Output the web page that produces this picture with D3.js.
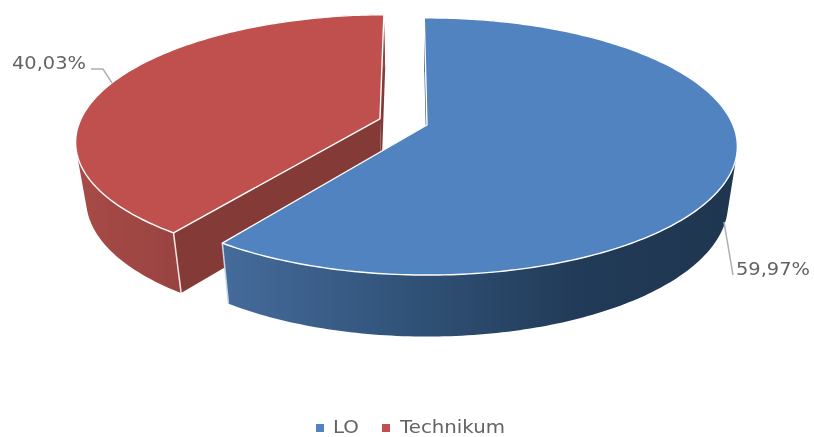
<!DOCTYPE html>
<meta charset="utf-8">
<script src="https://d3js.org/d3.v7.min.js"></script>
<style>
body { margin: 0; background: white; }
svg { filter: blur(0.4px); }
text { font-family: "DejaVu Sans", sans-serif; fill: #636363; }
</style>
<div id="my_dataviz"></div>
<script>
// values
var categories = ["LO", "Technikum"];
var shares = [59.97, 40.03];
var shareLabels = ["59,97%", "40,03%"];

var topColors = ["#5083bf", "#c0504d"];

var width = 814, height = 437;

var svg = d3.select("#my_dataviz")
  .append("svg")
    .attr("width", width)
    .attr("height", height)
    .style("display", "block");

// the disc is tilted with a bit of perspective: the apex sits above the middle of the ellipse
var apexX = 427, apexY = 125;
var radiusX = 306, radiusY = 125, tilt = 0.167;
var depthScaleX = 0.97, depthScaleY = 1.03, depthShift = 57;

function project(u, v, lower) {
  var w = 1 - tilt * v;
  var px = radiusX * u / w, py = radiusY * v / w;
  if (lower) { px = px * depthScaleX; py = py * depthScaleY + depthShift; }
  return [apexX + px, apexY + py];
}

var pie = d3.pie().sort(null)
  .startAngle(-0.6 * Math.PI / 180)
  .endAngle(359.4 * Math.PI / 180);
var slices = pie(shares);

// red slice is pulled out of the pie, in the plane of the disc, and looks a touch smaller
var explode = [[0, 0], [-0.155, -0.05]];
var sliceScale = [1, 0.985];

var line = d3.line();

function arcPoints(d, i, lower) {
  var n = Math.ceil((d.endAngle - d.startAngle) * 60), pts = [];
  for (var k = 0; k <= n; k++) {
    var a = d.startAngle + (d.endAngle - d.startAngle) * k / n;
    pts.push(project(sliceScale[i] * Math.sin(a) + explode[i][0],
                     -sliceScale[i] * Math.cos(a) + explode[i][1], lower));
  }
  return pts;
}
function apex(i, lower) { return project(explode[i][0], explode[i][1], lower); }

// gradients for the outer walls
var defs = svg.append("defs");
function gradient(id, x1, x2, stops) {
  var g = defs.append("linearGradient").attr("id", id)
    .attr("gradientUnits", "userSpaceOnUse")
    .attr("x1", x1).attr("x2", x2).attr("y1", 0).attr("y2", 0);
  stops.forEach(function(s) {
    g.append("stop").attr("offset", s[0]).attr("stop-color", s[1]);
  });
}
gradient("wall0", 225, 735, [[0, "#456b9b"], [0.35, "#315379"], [0.7, "#213a57"], [1, "#1f3650"]]);
gradient("wall1", 76, 180, [[0, "#a84b47"], [1, "#984340"]]);

var innerColors = ["#3c5f88", "#843a37"];
var cornerColors = ["#c9d6e6", "#f6e6e5"];

function drawSlice(i) {
  var d = slices[i];
  var up = arcPoints(d, i, false), low = arcPoints(d, i, true);
  var g = svg.append("g");

  // radial walls
  [[up[up.length - 1], low[low.length - 1]], [up[0], low[0]]].forEach(function(e) {
    g.append("path")
      .attr("d", line([apex(i, false), e[0], e[1], apex(i, true)]) + "Z")
      .attr("fill", innerColors[i]);
  });

  // outer wall: one small quad per arc step, all in one path so there are no seams,
  // every quad wound the same way so the overlaps at the silhouette stay filled
  var wall = "";
  d3.range(up.length - 1).forEach(function(k) {
    var quad = [up[k], up[k + 1], low[k + 1], low[k]];
    if (d3.polygonArea(quad) < 0) quad.reverse();
    wall += line(quad) + "Z";
  });
  g.append("path")
    .attr("d", wall)
    .attr("fill", "url(#wall" + i + ")");

  // light edge at the front corner of the wall
  var corner = i == 0 ? [up[up.length - 1], low[low.length - 1]] : [up[0], low[0]];
  g.append("path")
    .attr("d", line(corner))
    .attr("stroke", cornerColors[i])
    .attr("stroke-width", 1.5);

  // top face
  g.append("path")
    .attr("d", line([apex(i, false)].concat(up)) + "Z")
    .attr("fill", topColors[i])
    .attr("stroke", "white")
    .attr("stroke-width", 1.4)
    .attr("stroke-linejoin", "round");
}
drawSlice(1);
drawSlice(0);

// leader lines and share labels
var leaders = [
  [[724, 222], [733, 275]],
  [[112, 83], [103, 69], [91, 69]]
];
var labelPos = [[736, 275], [12, 69]];

leaders.forEach(function(l) {
  svg.append("path")
    .attr("d", line(l))
    .attr("fill", "none")
    .attr("stroke", "#b0b0b0")
    .attr("stroke-width", 1.5);
});
shareLabels.forEach(function(t, i) {
  svg.append("text")
    .attr("x", labelPos[i][0])
    .attr("y", labelPos[i][1])
    .attr("font-size", 18)
    .attr("textLength", 74)
    .attr("lengthAdjust", "spacingAndGlyphs")
    .text(t);
});

// legend
var legendX = [316, 382];
var legendLen = [26, 105];
categories.forEach(function(c, i) {
  svg.append("rect")
    .attr("x", legendX[i]).attr("y", 424)
    .attr("width", 8).attr("height", 8)
    .attr("fill", topColors[i]);
  svg.append("text")
    .attr("x", legendX[i] + (i == 0 ? 17 : 18))
    .attr("y", 433)
    .attr("font-size", 17)
    .attr("textLength", legendLen[i])
    .attr("lengthAdjust", "spacingAndGlyphs")
    .text(c);
});
</script>
